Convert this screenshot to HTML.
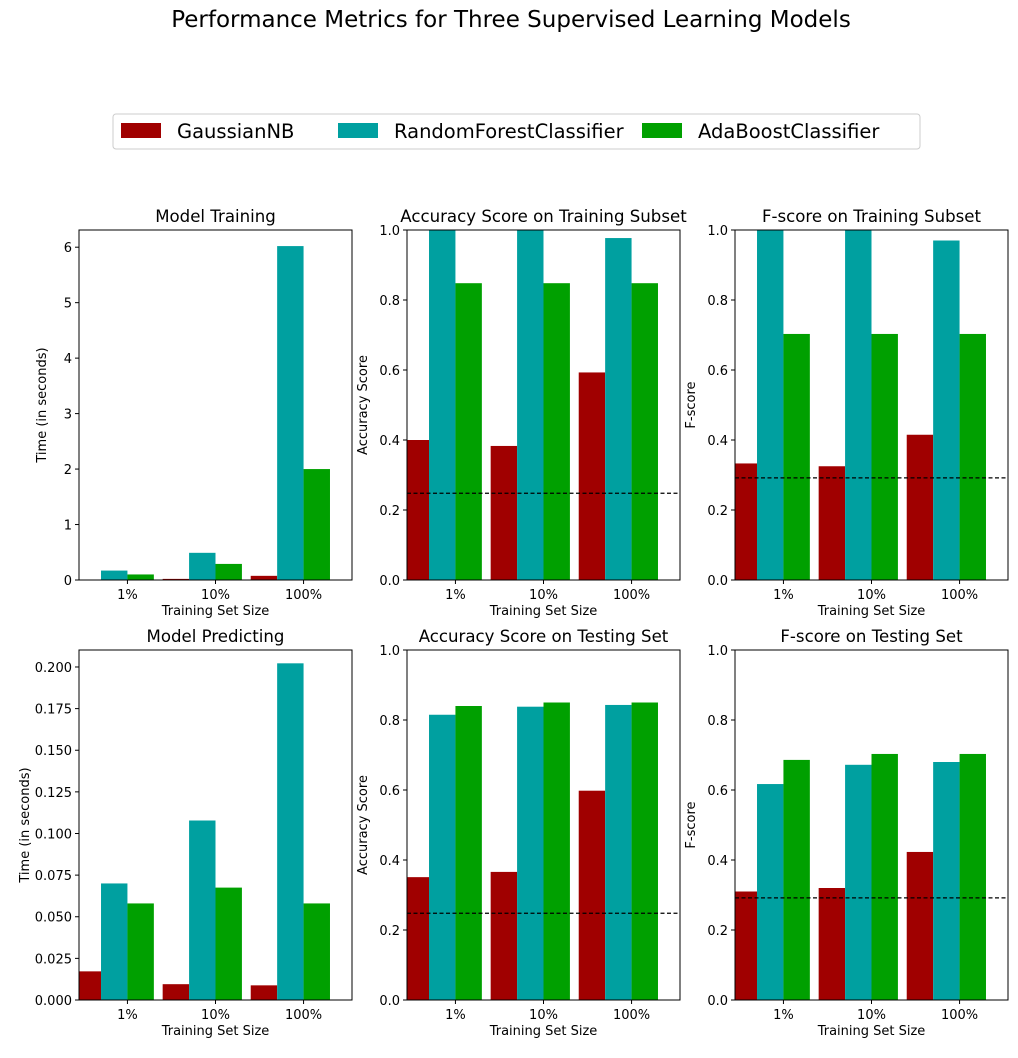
<!DOCTYPE html>
<html><head><meta charset="utf-8"><style>
body{margin:0;background:#fff;font-family:"Liberation Sans","DejaVu Sans",sans-serif}
svg text{font-family:"DejaVu Sans","Liberation Sans",sans-serif}
</style></head><body>
<svg id="c" width="1018" height="1053" xmlns="http://www.w3.org/2000/svg">
<text x="511" y="27" text-anchor="middle" font-size="23">Performance Metrics for Three Supervised Learning Models</text>
<g>
<rect x="113" y="114" width="807" height="35" fill="#fff" stroke="#ccc" rx="3"/>
<rect x="121" y="123" width="40" height="15" fill="#A00000"/><text x="177" y="138" font-size="19.5">GaussianNB</text>
<rect x="338" y="123" width="40" height="15" fill="#00A0A0"/><text x="394" y="138" font-size="19.5">RandomForestClassifier</text>
<rect x="642" y="123" width="40" height="15" fill="#00A000"/><text x="698" y="138" font-size="19.5">AdaBoostClassifier</text>
</g>
</svg>
<script>
const categories=["1%","10%","100%"];
const learners=["GaussianNB","RandomForestClassifier","AdaBoostClassifier"];
const colors=["#A00000","#00A0A0","#00A000"];
const trainTime=[[0.005,0.02,0.075],[0.17,0.49,6.02],[0.1,0.29,2.0]];
const accTrain=[[0.4,0.383,0.593],[1.0,1.0,0.977],[0.848,0.848,0.848]];
const fTrain=[[0.333,0.325,0.415],[1.0,1.0,0.97],[0.703,0.703,0.703]];
const predTime=[[0.0172,0.0095,0.0088],[0.0700,0.1078,0.2022],[0.0580,0.0675,0.0580]];
const accTest=[[0.351,0.366,0.598],[0.815,0.838,0.843],[0.84,0.85,0.85]];
const fTest=[[0.31,0.32,0.423],[0.617,0.672,0.68],[0.686,0.703,0.703]];
const accBaseline=0.2478, fBaseline=0.2917;
const ticks1=[0,1,2,3,4,5,6], ticks2=[0,0.025,0.05,0.075,0.1,0.125,0.15,0.175,0.2], ticksS=[0,0.2,0.4,0.6,0.8,1.0];
const panels=[
 {t:"Model Training",d:trainTime,ymax:6.31,ticks:ticks1,fmt:v=>v.toFixed(0),yl:"Time (in seconds)",x:79,y:230},
 {t:"Accuracy Score on Training Subset",d:accTrain,ymax:1,ticks:ticksS,fmt:v=>v.toFixed(1),yl:"Accuracy Score",x:407,y:230,base:accBaseline},
 {t:"F-score on Training Subset",d:fTrain,ymax:1,ticks:ticksS,fmt:v=>v.toFixed(1),yl:"F-score",x:735,y:230,base:fBaseline},
 {t:"Model Predicting",d:predTime,ymax:0.2102,ticks:ticks2,fmt:v=>v.toFixed(3),yl:"Time (in seconds)",x:79,y:650},
 {t:"Accuracy Score on Testing Set",d:accTest,ymax:1,ticks:ticksS,fmt:v=>v.toFixed(1),yl:"Accuracy Score",x:407,y:650,base:accBaseline},
 {t:"F-score on Testing Set",d:fTest,ymax:1,ticks:ticksS,fmt:v=>v.toFixed(1),yl:"F-score",x:735,y:650,base:fBaseline}];
const svg=document.getElementById('c');const NS="http://www.w3.org/2000/svg";
function mk(tag,a,p){const e=document.createElementNS(NS,tag);for(const k in a)e.setAttribute(k,a[k]);(p||svg).appendChild(e);return e;}
const W=273,H=350;
panels.forEach((p,pi)=>{
 const g=mk('g',{});
 
 
 const cp=mk('clipPath',{id:'cp'+pi},g);mk('rect',{x:p.x,y:p.y,width:W,height:H},cp);
 const sx=v=>p.x+(v+0.1)/3.1*W, sy=v=>p.y+H-v/p.ymax*H;
 const bars=mk('g',{'clip-path':'url(#cp'+pi+')'},g);
 p.d.forEach((series,k)=>series.forEach((v,i)=>{
  const r=mk('rect',{x:sx(i+k*0.3-0.15),y:sy(v),width:sx(0.3)-sx(0),height:sy(0)-sy(v),fill:colors[k]},bars);
  
  
 }));
 if(p.base!==undefined){const l=mk('line',{x1:p.x,x2:p.x+W,y1:sy(p.base),y2:sy(p.base),stroke:'#000','stroke-dasharray':'4,2.5','stroke-width':1.2},g);
  }
 mk('rect',{x:p.x,y:p.y,width:W,height:H,fill:'none',stroke:'#000','stroke-width':1},g);
 p.ticks.forEach(v=>{const y=sy(v);mk('line',{x1:p.x-4,x2:p.x,y1:y,y2:y,stroke:'#000'},g);
  const t=mk('text',{x:p.x-7,y:y+5,'text-anchor':'end','font-size':13},g);t.textContent=p.fmt(v);});
 categories.forEach((c,i)=>{const x=sx(i+0.45);mk('line',{x1:x,x2:x,y1:p.y+H,y2:p.y+H+4,stroke:'#000'},g);
  const t=mk('text',{x:x,y:p.y+H+19,'text-anchor':'middle','font-size':13},g);t.textContent=c;});
 const xl=mk('text',{x:p.x+W/2,y:p.y+H+35,'text-anchor':'middle','font-size':13},g);xl.textContent="Training Set Size";
 
 const lx=pi%3==0?p.x-33-(pi==3?17:0):p.x-40;
 const yl=mk('text',{x:lx,y:p.y+H/2,'text-anchor':'middle','font-size':13,transform:`rotate(-90 ${lx} ${p.y+H/2})`},g);yl.textContent=p.yl;
 
 const tt=mk('text',{x:p.x+W/2,y:p.y-8,'text-anchor':'middle','font-size':16.6},g);tt.textContent=p.t;
 
});
</script>
</body></html>
